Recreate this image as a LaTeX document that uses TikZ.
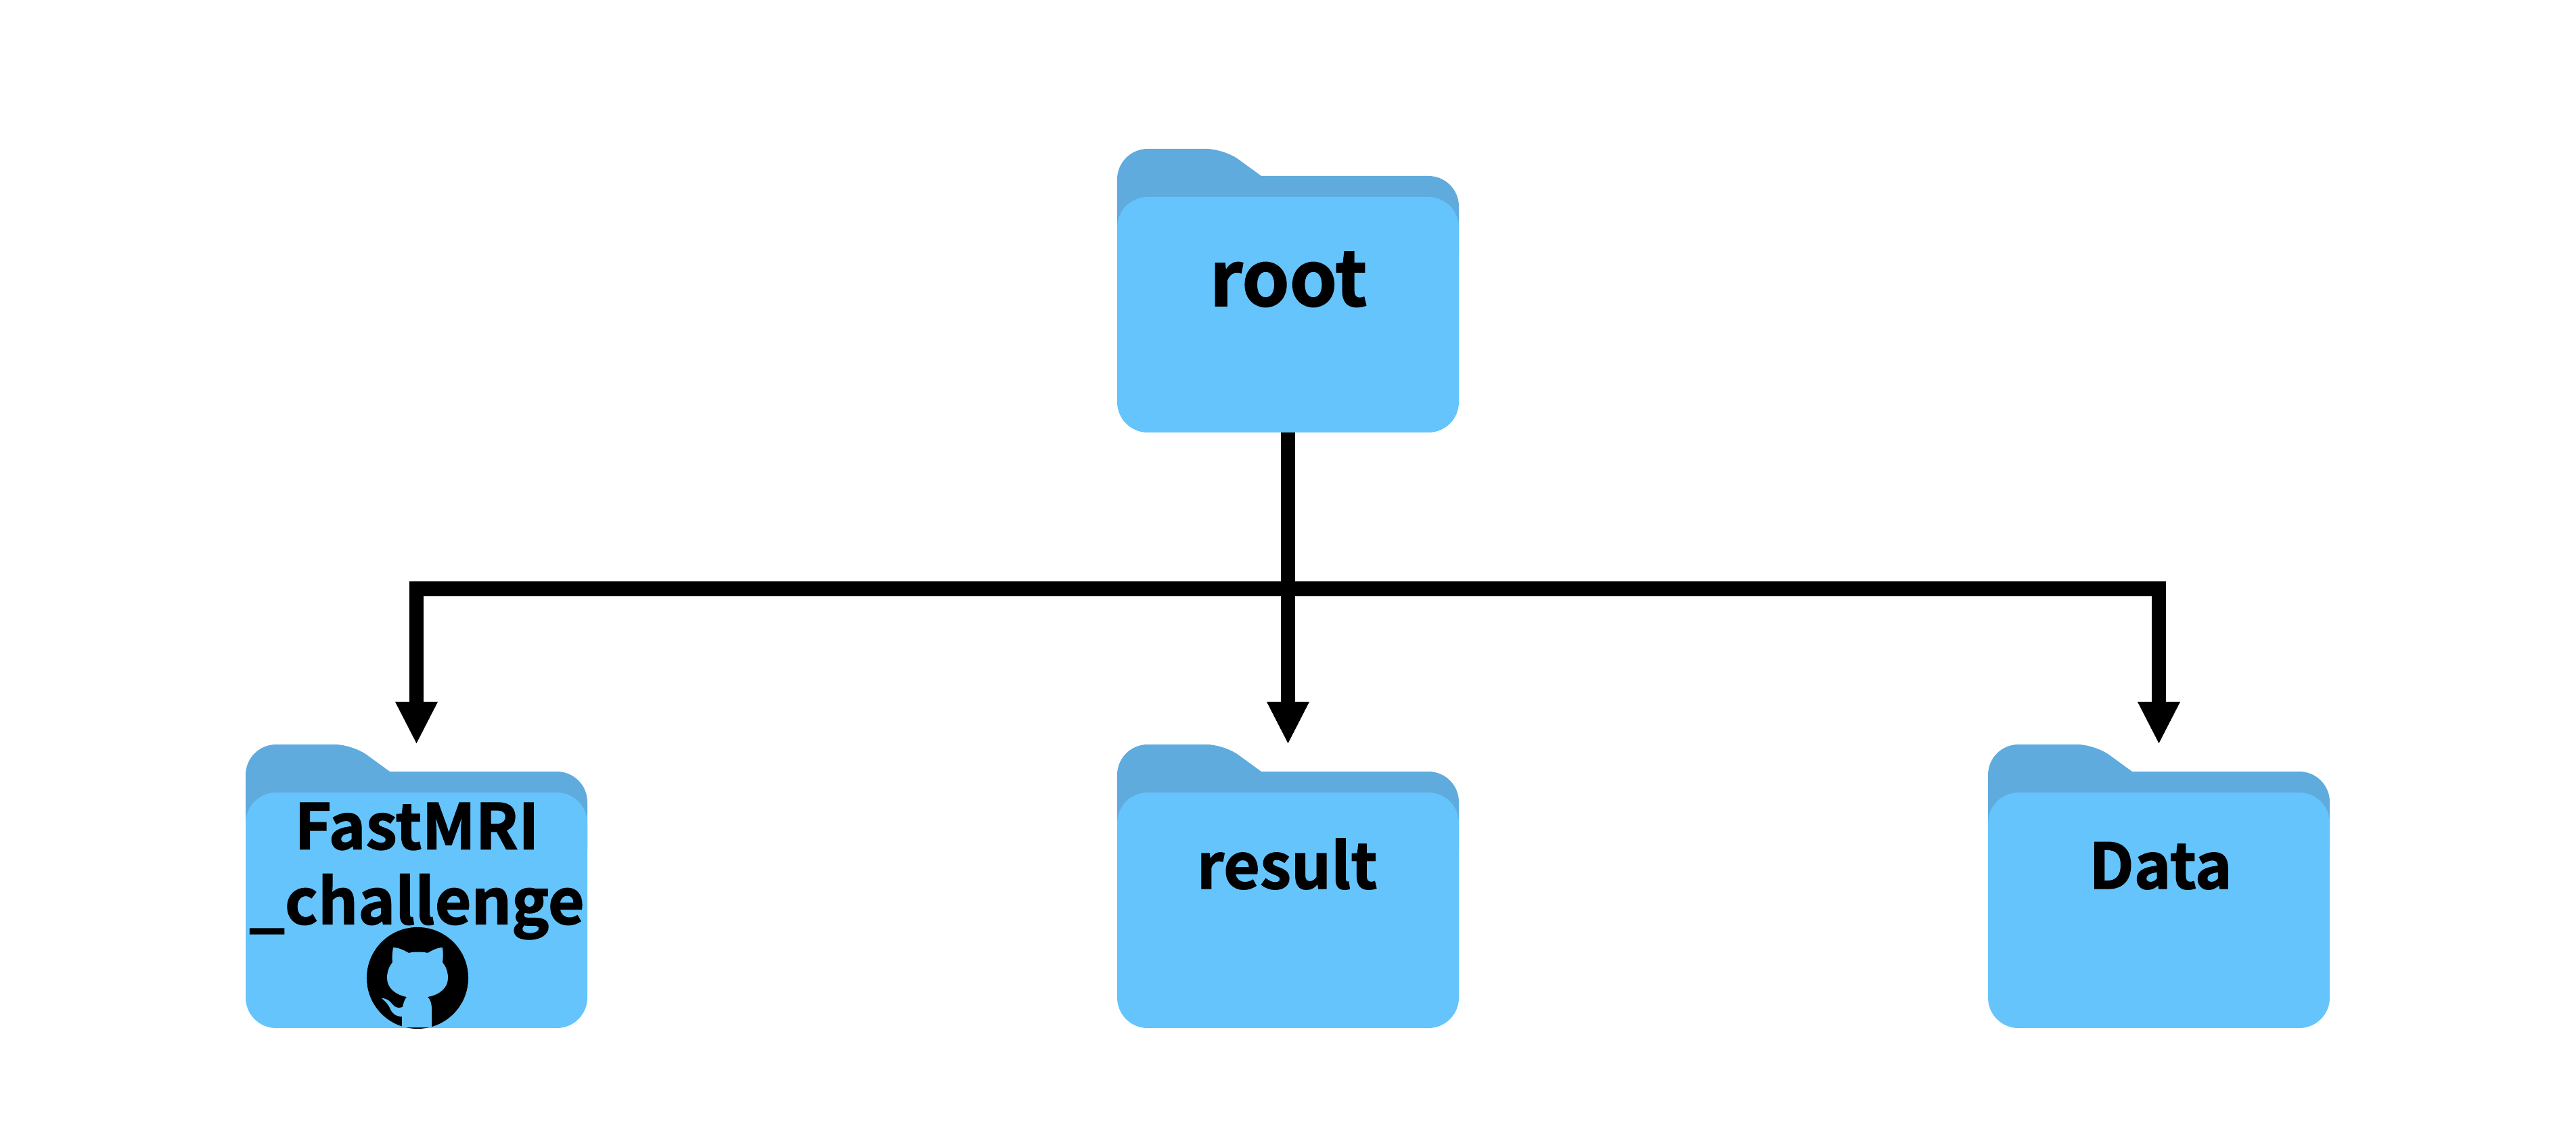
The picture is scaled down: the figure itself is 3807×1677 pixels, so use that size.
\documentclass[tikz,border=0pt]{standalone}
\usepackage{fontspec}
\setmainfont{Noto Sans CJK KR}[BoldFont={Noto Sans CJK KR Bold}, BoldFeatures={FakeBold=1.5}]
\usetikzlibrary{arrows.meta}
\definecolor{folderfront}{HTML}{64C4FB}
\definecolor{folderback}{HTML}{5FABDD}
\tikzset{
	foldertext/.style={font=\bfseries\fontsize{26.4}{31.5}\selectfont, align=center, inner sep=0pt, text=black},
	roottext/.style={foldertext, font=\bfseries\fontsize{32}{38}\selectfont},
	folderbox/.style={rectangle, inner sep=0pt, outer sep=0pt, minimum width=5.05cm, minimum height=4.19cm},
	pics/folder/.style={code={
			\fill[folderback] (0, 200) [rounded corners=0.45cm] -- (0, 0) [rounded corners=0.26cm] -- (158, 0)
				[sharp corners] -- (213, 40) [rounded corners=0.45cm] -- (505, 40) -- (505, 200) -- cycle;
			\fill[folderfront, rounded corners=0.45cm] (0, 71) rectangle (505, 419);
			\node (-box) [folderbox] at (252.5, 209.5) {};
		}},
	pics/octocat/.style={code={
			\fill[black] (0, 0) circle (0.75cm);
			\fill[folderfront] (-36, -45) .. controls (-28, -45) and (-20, -41) .. (-13, -37)
				.. controls (-5, -39) and (7, -39) .. (15, -37)
				.. controls (22, -41) and (30, -45) .. (37, -45)
				.. controls (38, -38) and (38, -30) .. (37, -23)
				.. controls (42, -17) and (45, -9) .. (45, 0)
				.. controls (45, 15) and (32, 25) .. (15, 28)
				.. controls (19, 32) and (21, 38) .. (21, 45)
				-- (21, 73) -- (-23, 73) -- (-23, 57)
				.. controls (-32, 57) and (-38, 52) .. (-41, 44)
				.. controls (-44, 38) and (-48, 34) .. (-53, 30)
				.. controls (-45, 30) and (-41, 34) .. (-37, 39)
				.. controls (-33, 44) and (-28, 45) .. (-22, 43)
				.. controls (-21, 37) and (-19, 32) .. (-16, 28)
				.. controls (-32, 25) and (-45, 15) .. (-45, 0)
				.. controls (-45, -9) and (-42, -17) .. (-37, -23)
				.. controls (-38, -30) and (-37, -38) .. (-36, -45) -- cycle;
		}}
}
\begin{document}
\begin{tikzpicture}[x=0.01cm, y=-0.01cm, line width=0.21cm,
		>={Triangle[length=0.63cm, width=0.58cm]}]
	\useasboundingbox (0, 0) rectangle (3807, 1677);

	\pic (root) at (1651, 220) {folder};
	\pic (fast) at (363, 1100) {folder};
	\pic (result) at (1651, 1100) {folder};
	\pic (data) at (2938, 1100) {folder};

	\node (rootlabel) [roottext, anchor=base] at (1904, 452) {root};
	\node (fastlabel) [foldertext] at (616, 1287) {FastMRI\\\_challenge};
	\node (resultlabel) [foldertext, anchor=base] at (1902, 1313) {result};
	\node (datalabel) [foldertext, anchor=base] at (3193, 1313) {Data};

	\pic at (617, 1445) {octocat};

	\coordinate (bus) at (1903.5, 870);
	\foreach \x in {fast, data} {
			\draw[->] (root-box.south) -- (bus) -| (\x-box.north);
		}
	\draw[->] (root-box.south) -- (result-box.north);
\end{tikzpicture}
\end{document}
